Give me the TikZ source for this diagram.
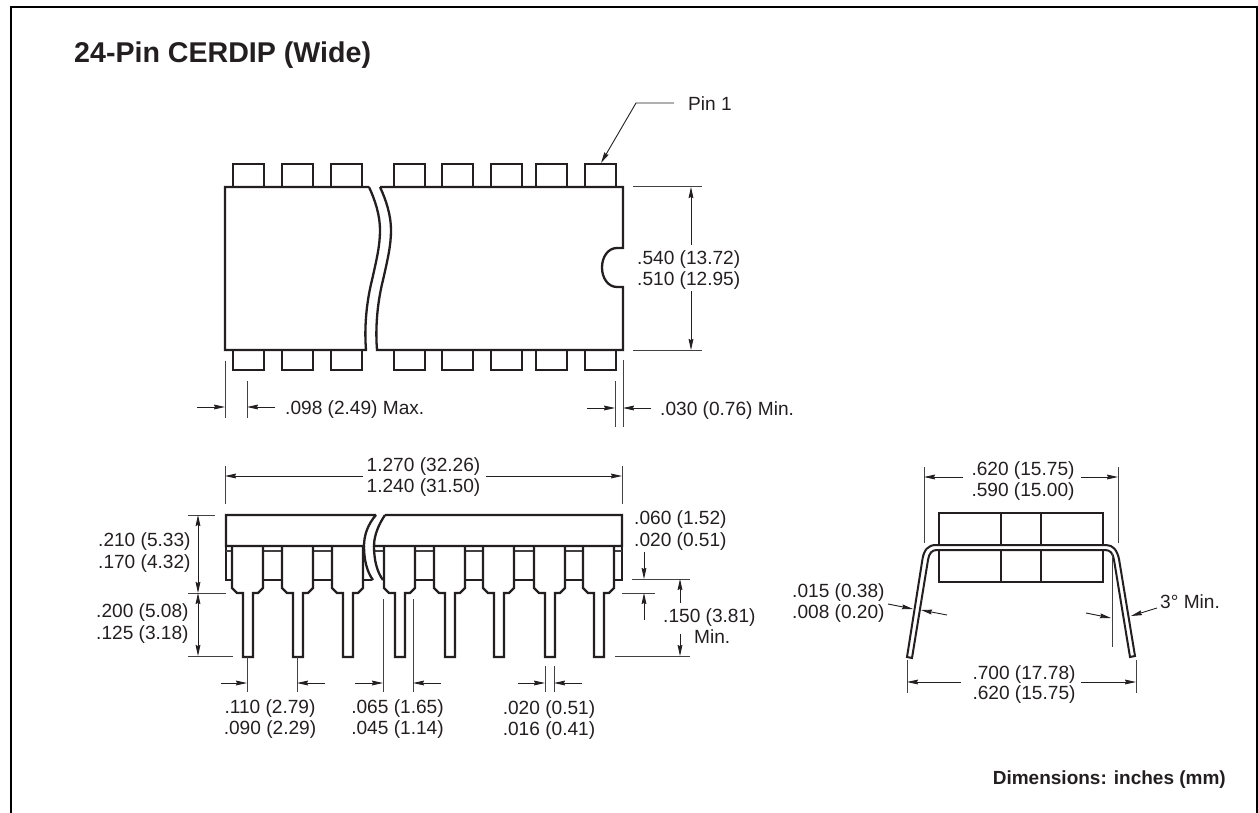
\documentclass[tikz,border=0pt]{standalone}
\usepackage{fontspec}
\setmainfont{Liberation Sans}
\usetikzlibrary{arrows.meta}
\definecolor{ink}{HTML}{231F20}
\tikzset{
  heavy/.style={draw=ink,line width=2.3pt,line join=miter},
  thin line/.style={draw=ink!85,line width=1pt},
  dimarrow/.style={draw=ink,line width=0.9pt,-{Stealth[length=11pt,width=4.8pt,inset=1pt]}},
  dimboth/.style={draw=ink,line width=0.9pt,{Stealth[length=11pt,width=4.8pt,inset=1pt]}-{Stealth[length=11pt,width=4.8pt,inset=1pt]}},
  lbl/.style={inner sep=0pt,text=ink,font=\fontsize{19.1}{19.1}\selectfont,anchor=base west,yshift=-1pt},
  lblc/.style={lbl,anchor=base},
  ttl/.style={inner sep=0pt,text=ink,font=\bfseries\fontsize{28.6}{28.6}\selectfont,anchor=base west},
  note/.style={inner sep=0pt,text=ink,font=\bfseries\fontsize{19}{19}\selectfont,anchor=base east}
}
\newcommand{\arw}[3]{\coordinate (#1s) at #2;\coordinate (#1e) at #3;\draw[dimarrow] (#1s) -- (#1e);}
\newcommand{\ext}[3]{\coordinate (#1s) at #2;\coordinate (#1e) at #3;\draw[thin line] (#1s) -- (#1e);}
\begin{document}
\begin{tikzpicture}[x=1pt,y=-1pt]
\useasboundingbox (0,0) rectangle (1258,813);
\coordinate (fa) at (11,813);\coordinate (fb) at (11,7.5);\coordinate (fc) at (1257,7.5);\coordinate (fd) at (1257,813);
\draw[draw=black,line width=2pt] (fa) -- (fb) -- (fc) -- (fd);
\node[ttl] (title) at (74,63) {24-Pin CERDIP (Wide)};
\node[note] (dimnote) at (1226,784) {Dimensions: inches (mm)};
% ---------- top view
\foreach \x [count=\i] in {233,282,331,394,442,491,536,585}{
  \draw[heavy] (\x,187) -- (\x,164) -- (\x+31,164) -- (\x+31,187);
  \draw[heavy] (\x,350) -- (\x,370) -- (\x+31,370) -- (\x+31,350);
}
\draw[heavy] (369,187) -- (225,187) -- (225,350) -- (366,350)
  .. controls (364,325) and (367,300) .. (372,280)
  .. controls (377,258) and (380,245) .. (380,230)
  .. controls (380,215) and (375,200) .. (369,187);
\draw[heavy] (380,187) -- (623,187) -- (623,248) -- (617,248)
  .. controls (608,248) and (602,257) .. (602,267.5)
  .. controls (602,278) and (608,287) .. (617,287)
  -- (623,287) -- (623,350) -- (377,350)
  .. controls (375,325) and (378,300) .. (383,280)
  .. controls (388,258) and (391,245) .. (391,230)
  .. controls (391,215) and (386,200) .. (380,187);
% pin 1
\node[lbl] (pin1) at (688,110) {Pin 1};
\coordinate (p1a) at (674,103);\coordinate (p1b) at (636,103);\coordinate (p1c) at (601,163);
\draw[dimarrow] (p1a) -- (p1b) -- (p1c);
% height
\ext{e1}{(633,187)}{(702,187)}
\ext{e2}{(633,350)}{(702,350)}
\arw{a1}{(691,245)}{(691,187)}
\arw{a2}{(691,291)}{(691,350)}
\node[lbl] (t540) at (637,263) {.540 (13.72)};
\node[lbl] (t510) at (637,284) {.510 (12.95)};
% .098
\ext{e3}{(225,361)}{(225,418)}
\ext{e4}{(247,381)}{(247,418)}
\arw{a3}{(197,407)}{(225,407)}
\arw{a4}{(275,407)}{(247,407)}
\node[lbl] (t098) at (285,413) {.098 (2.49) Max.};
% .030
\ext{e5}{(615,381)}{(615,427)}
\ext{e6}{(623,360)}{(623,427)}
\arw{a5}{(587,408)}{(615,408)}
\arw{a6}{(651,408)}{(623,408)}
\node[lbl] (t030) at (660,414) {.030 (0.76) Min.};
% ---------- side view: lower body
\draw[heavy] (226,546) -- (226,580) -- (373,580);
\draw[heavy] (622,546) -- (622,580) -- (383,580);
\draw[thin line,line width=1.3pt] (226,551) -- (622,551);
\foreach \x [count=\i] in {232,282,332,384,434,483,534,583}{
  \draw[heavy,fill=white] (\x,546) -- (\x,588) -- (\x+5,593) -- (\x+11,593) -- (\x+11,657)
    -- (\x+21,657) -- (\x+21,593) -- (\x+26,593) -- (\x+31,588) -- (\x+31,546);
}
% break
\fill[white] (376,513) .. controls (368,524) and (364,535) .. (364,546)
  .. controls (364,560) and (367,572) .. (373,582) -- (383,582)
  .. controls (377,572) and (374,560) .. (374,546)
  .. controls (374,535) and (379,524) .. (385,513) -- cycle;
\draw[heavy,fill=white] (376,515) -- (226,515) -- (226,546) -- (364,546) .. controls (364,535) and (368,524) .. (376,515);
\draw[heavy,fill=white] (385,515) -- (622,515) -- (622,546) -- (374,546) .. controls (374,535) and (379,524) .. (385,515);
\draw[heavy] (364,546) .. controls (364,560) and (367,572) .. (373,580);
\draw[heavy] (374,546) .. controls (374,560) and (377,572) .. (383,580);
% overall length
\ext{e7}{(225,466)}{(225,504)}
\ext{e8}{(622,466)}{(622,504)}
\arw{a7}{(363,476)}{(225,476)}
\arw{a8}{(486,476)}{(622,476)}
\node[lblc] (t1270) at (423.5,470) {1.270 (32.26)};
\node[lblc] (t1240) at (423.5,491) {1.240 (31.50)};
% left dims
\ext{e9}{(188,515)}{(215,515)}
\ext{e10}{(188,593)}{(226,593)}
\ext{e11}{(188,656)}{(233,656)}
\coordinate (d1a) at (198,515);\coordinate (d1b) at (198,593);\coordinate (d2b) at (198,656);
\draw[dimboth] (d1a) -- (d1b);
\draw[dimboth] (d1b) -- (d2b);
\node[lbl] (t210) at (98,545) {.210 (5.33)};
\node[lbl] (t170) at (98,567) {.170 (4.32)};
\node[lbl] (t200) at (96,616) {.200 (5.08)};
\node[lbl] (t125) at (96,638) {.125 (3.18)};
% bottom dims
\ext{e12}{(247,657)}{(247,692)}
\ext{e13}{(297,657)}{(297,692)}
\arw{a9}{(221,683)}{(247,683)}
\arw{a10}{(325,683)}{(297,683)}
\node[lblc] (t110) at (270,712) {.110 (2.79)};
\node[lblc] (t090) at (270,733) {.090 (2.29)};
\ext{e14}{(383,599)}{(383,692)}
\ext{e15}{(413,599)}{(413,692)}
\arw{a11}{(355,683)}{(383,683)}
\arw{a12}{(441,683)}{(413,683)}
\node[lblc] (t065) at (397.5,712) {.065 (1.65)};
\node[lblc] (t045) at (397.5,733) {.045 (1.14)};
\ext{e16}{(545,666)}{(545,692)}
\ext{e17}{(554,666)}{(554,692)}
\arw{a13}{(518,683)}{(545,683)}
\arw{a14}{(582,683)}{(554,683)}
\node[lblc] (t020) at (549,713) {.020 (0.51)};
\node[lblc] (t016) at (549,734) {.016 (0.41)};
% right dims
\node[lbl] (t060) at (634,523) {.060 (1.52)};
\node[lbl] (t020b) at (634,545) {.020 (0.51)};
\ext{e18}{(632,579)}{(690,579)}
\ext{e19}{(622,593)}{(655,593)}
\ext{e20}{(615,656)}{(690,656)}
\arw{a15}{(644,552)}{(644,579)}
\arw{a16}{(644,620)}{(644,593)}
\arw{a17}{(680,603)}{(680,579)}
\arw{a18}{(680,634)}{(680,656)}
\node[lbl] (t150) at (663,621) {.150 (3.81)};
\node[lbl] (tmin) at (694,642) {Min.};
% ---------- end view
\draw[heavy] (939,513) rectangle (1103,582);
\draw[heavy] (1001,513) -- (1001,582);
\draw[heavy] (1041,513) -- (1041,582);
\draw[heavy,fill=white,line width=2pt,line join=miter]
  (907,657) -- (922.5,559) .. controls (924,550) and (928,545) .. (936,545)
  -- (1106,545) .. controls (1113,545) and (1117,550) .. (1119,559)
  -- (1135,656) -- (1130,657)
  -- (1114,560) .. controls (1113,553) and (1110,550) .. (1105,550)
  -- (937,550) .. controls (932,550) and (929,553) .. (928,560)
  -- (912,658) -- cycle;
\ext{e21}{(924,467)}{(924,543)}
\ext{e22}{(1118,467)}{(1118,543)}
\arw{a19}{(963,477)}{(924,477)}
\arw{a20}{(1081,477)}{(1118,477)}
\node[lblc] (t620) at (1023,474) {.620 (15.75)};
\node[lblc] (t590) at (1023,495) {.590 (15.00)};
\node[lbl] (t015) at (792,596) {.015 (0.38)};
\node[lbl] (t008) at (792,617) {.008 (0.20)};
\arw{a21}{(888,604)}{(913,609)}
\arw{a22}{(947,615)}{(921,610)}
\arw{a23}{(1086,613)}{(1111,618)}
\ext{e23}{(1112,553)}{(1112,647)}
\arw{a24}{(1157,608)}{(1131,616)}
\node[lbl] (t3) at (1160,607.5) {3° Min.};
\ext{e24}{(907,660)}{(907,693)}
\ext{e25}{(1136,660)}{(1136,693)}
\arw{a25}{(961,682)}{(907,682)}
\arw{a26}{(1081,682)}{(1136,682)}
\node[lblc] (t700) at (1024,678) {.700 (17.78)};
\node[lblc] (t620b) at (1024,698) {.620 (15.75)};
\end{tikzpicture}
\end{document}
